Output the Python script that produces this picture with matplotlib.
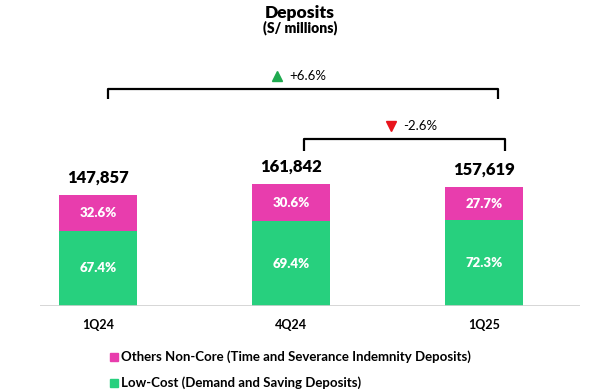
import matplotlib
matplotlib.use("Agg")
import matplotlib.pyplot as plt

quarters = ["1Q24", "4Q24", "1Q25"]
totals = [147857, 161842, 157619]
low_cost_pct = [67.4, 69.4, 72.3]
non_core_pct = [32.6, 30.6, 27.7]
total_change_label = "+6.6%"
quarter_change_label = "-2.6%"

GREEN = "#27D07E"
MAGENTA = "#E83DAD"

plt.rcParams["font.family"] = ["Lato", "DejaVu Sans"]

W, H = 598, 392
fig = plt.figure(figsize=(W / 100, H / 100), dpi=100)

# axes placed in pixel terms: x 40..580, baseline at y=306
ax = fig.add_axes([40 / W, (H - 306) / H, 540 / W, 306 / H])
ax.set_xlim(-0.30, 2.497)
ax.set_ylim(0, max(totals) * 306 / 122)
ax.axis("off")
ax.axhline(0, color="#d0d0d0", lw=1.2)

x = list(range(len(quarters)))
low = [t * p / 100 for t, p in zip(totals, low_cost_pct)]
core = [t - l for t, l in zip(totals, low)]
ax.bar(x, low, width=0.4, color=GREEN)
ax.bar(x, core, width=0.4, bottom=low, color=MAGENTA)

unit = max(totals) / 122  # data units per pixel
for i in x:
    ax.text(i, low[i] / 2, f"{low_cost_pct[i]:.1f}%", ha="center", va="center",
            color="white", fontsize=9.5, fontweight="heavy")
    ax.text(i, low[i] + core[i] / 2, f"{non_core_pct[i]:.1f}%", ha="center",
            va="center", color="white", fontsize=9.5, fontweight="heavy")
    ax.text(i, totals[i] + 9 * unit, f"{totals[i]:,}", ha="center", va="bottom",
            fontsize=12, fontweight="heavy")
    ax.text(i, -19 * unit, quarters[i], ha="center", va="center", fontsize=9,
            fontweight="bold")


def bracket(x0, x1, y, drop, label, marker, mcolor, tx):
    ax.plot([x0, x0, x1, x1], [y - drop, y, y, y - drop], color="black", lw=1.6,
            clip_on=False, solid_capstyle="butt")
    ax.plot([tx - 0.06], [y + 13 * unit], marker=marker, color=mcolor,
            markersize=7, clip_on=False)
    ax.text(tx, y + 13 * unit, label, ha="left", va="center", fontsize=9.5)


bracket(0.05, 2.07, 216.5 * unit, 9.5 * unit, total_change_label, "^", "#1FAA4F", 0.99)
bracket(1.07, 2.11, 167.5 * unit, 12 * unit, quarter_change_label, "v", "#E8141C", 1.58)

fig.text(300 / W, 1 - 13 / H, "Deposits", ha="center", va="center", fontsize=12.5,
         fontweight="heavy")
fig.text(300 / W, 1 - 28 / H, "(S/ millions)", ha="center", va="center",
         fontsize=10, fontweight="heavy")

legend_items = [("Others Non-Core (Time and Severance Indemnity Deposits)", MAGENTA),
                ("Low-Cost (Demand and Saving Deposits)", GREEN)]
for k, (name, col) in enumerate(legend_items):
    yy = 1 - (357 + 26 * k) / H
    fig.patches.append(plt.Rectangle((110 / W, yy - 4 / H), 8 / W, 8 / H,
                                     transform=fig.transFigure, color=col))
    fig.text(121 / W, yy, name, ha="left", va="center", fontsize=9.5,
             fontweight="bold")

fig.savefig("out.png", dpi=100)
